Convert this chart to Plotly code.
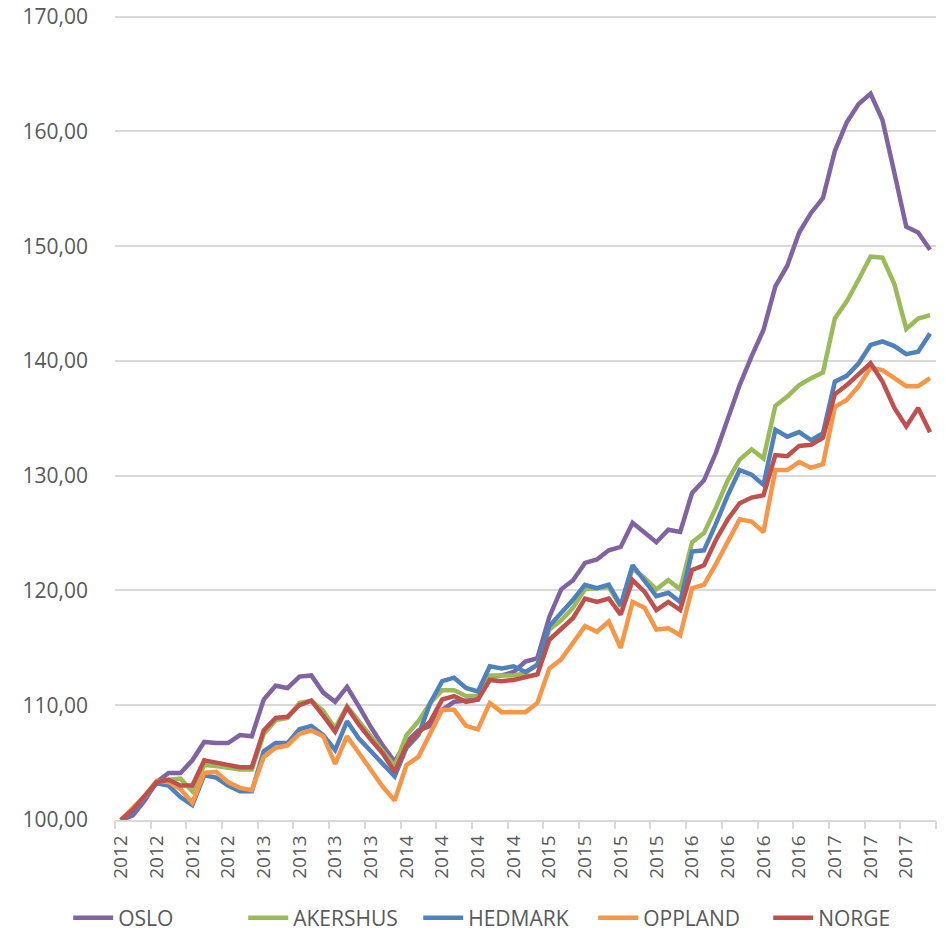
import plotly.graph_objects as go

# Monthly index, Jan 2012 - Sep 2017 (one label every 3 months)
tick_labels = ["2012"] * 4 + ["2013"] * 4 + ["2014"] * 4 + ["2015"] * 4 + ["2016"] * 4 + ["2017"] * 3

oslo = [100.0, 100.4, 101.7, 103.3, 104.1, 104.1, 105.2, 106.8, 106.7, 106.7, 107.4, 107.3,
        110.5, 111.7, 111.5, 112.5, 112.6, 111.1, 110.3, 111.6, 109.9, 108.1, 106.5, 105.1,
        106.8, 107.8, 108.2, 109.6, 110.3, 110.4, 110.5, 112.5, 112.6, 112.9, 113.8, 114.1,
        117.7, 120.1, 120.9, 122.4, 122.7, 123.5, 123.8, 125.9, 125.1, 124.2, 125.3, 125.1,
        128.5, 129.6, 132.0, 134.9, 137.9, 140.4, 142.7, 146.5, 148.3, 151.2, 152.9, 154.2,
        158.3, 160.8, 162.4, 163.3, 161.0, 156.4, 151.7, 151.2, 149.7]
akershus = [100.0, 100.8, 102.0, 103.3, 103.5, 103.6, 102.5, 104.8, 104.7, 104.5, 104.4, 104.4,
            107.5, 108.7, 108.9, 110.2, 110.4, 109.5, 108.0, 109.9, 108.6, 107.4, 106.1, 104.7,
            107.4, 108.6, 110.2, 111.3, 111.3, 110.8, 110.8, 112.6, 112.6, 112.6, 112.8, 113.6,
            116.6, 117.4, 118.5, 120.1, 120.2, 120.3, 118.6, 121.9, 121.1, 120.1, 120.9, 120.1,
            124.2, 125.0, 127.2, 129.6, 131.4, 132.3, 131.5, 136.1, 136.9, 137.9, 138.5, 139.0,
            143.7, 145.2, 147.1, 149.1, 149.0, 146.7, 142.8, 143.7, 144.0]
hedmark = [100.0, 100.7, 102.0, 103.2, 103.0, 102.0, 101.3, 103.9, 103.7, 103.0, 102.5, 102.5,
           106.0, 106.7, 106.7, 107.9, 108.2, 107.4, 106.1, 108.6, 107.1, 106.0, 104.9, 103.8,
           106.3, 107.4, 110.2, 112.1, 112.4, 111.5, 111.2, 113.4, 113.2, 113.4, 112.9, 113.5,
           116.9, 118.0, 119.2, 120.5, 120.2, 120.5, 118.7, 122.2, 120.9, 119.5, 119.8, 119.0,
           123.4, 123.5, 125.8, 128.3, 130.5, 130.1, 129.2, 134.0, 133.4, 133.8, 133.1, 133.7,
           138.2, 138.7, 139.8, 141.4, 141.7, 141.3, 140.6, 140.8, 142.4]
oppland = [100.0, 101.0, 102.1, 103.4, 103.3, 102.7, 101.5, 104.1, 104.2, 103.3, 102.8, 102.6,
           105.5, 106.3, 106.5, 107.5, 107.8, 107.3, 104.9, 107.3, 105.8, 104.4, 102.9, 101.7,
           104.8, 105.5, 107.6, 109.6, 109.6, 108.2, 107.9, 110.2, 109.4, 109.4, 109.4, 110.2,
           113.2, 114.0, 115.4, 116.9, 116.4, 117.3, 115.0, 119.0, 118.5, 116.6, 116.7, 116.1,
           120.2, 120.5, 122.3, 124.3, 126.2, 126.0, 125.1, 130.5, 130.5, 131.2, 130.7, 131.0,
           136.0, 136.6, 137.8, 139.4, 139.2, 138.5, 137.8, 137.8, 138.5]
norge = [100.0, 100.9, 102.1, 103.3, 103.5, 103.0, 103.0, 105.2, 105.0, 104.8, 104.6, 104.6,
         107.8, 108.9, 109.0, 110.0, 110.4, 109.1, 107.7, 109.8, 108.3, 107.0, 105.8, 104.2,
         106.5, 107.6, 108.6, 110.5, 110.8, 110.3, 110.5, 112.2, 112.1, 112.2, 112.4, 112.7,
         115.7, 116.7, 117.6, 119.3, 119.0, 119.3, 117.9, 120.9, 119.9, 118.3, 119.0, 118.3,
         121.8, 122.2, 124.4, 126.2, 127.6, 128.1, 128.3, 131.8, 131.7, 132.6, 132.7, 133.3,
         137.1, 137.9, 138.8, 139.8, 138.2, 135.9, 134.3, 135.9, 133.8]

series_names = ["OSLO", "AKERSHUS", "HEDMARK", "OPPLAND", "NORGE"]
series_values = [oslo, akershus, hedmark, oppland, norge]
colors = ["#8064A2", "#9BBB59", "#4F81BD", "#F79646", "#C0504D"]

n = len(oslo)
xs = list(range(n))
group = 3
label_vals = list(range(0, n, group))
boundary_vals = [k - 0.5 for k in range(0, n + 1, group)]

FONT = "Open Sans"
TXT = "#595959"
GRID = "#D9D9D9"

fig = go.Figure()
for name, vals, col in zip(series_names, series_values, colors):
    fig.add_trace(go.Scatter(x=xs, y=vals, name=name, mode="lines",
                             line=dict(color=col, width=4.5)))

# invisible trace to carry the tick-mark axis
fig.add_trace(go.Scatter(x=xs, y=oslo, xaxis="x2", mode="lines",
                         line=dict(color="rgba(0,0,0,0)"), showlegend=False,
                         hoverinfo="skip"))

fig.update_layout(
    width=945, height=933,
    margin=dict(l=115, r=9, t=15, b=113, autoexpand=False),
    paper_bgcolor="white", plot_bgcolor="white",
    separators=",.",
    font=dict(family=FONT, color=TXT, size=20),
    showlegend=True,
    legend=dict(orientation="h", x=-0.057, xanchor="left", y=-0.122, yanchor="middle",
                font=dict(family=FONT, size=21, color=TXT), traceorder="normal",
                entrywidth=120, itemwidth=40),
    xaxis=dict(range=[-0.5, n - 0.5], tickmode="array", tickvals=label_vals,
               ticktext=tick_labels, tickangle=-90, ticks="", showgrid=False,
               zeroline=False, showline=True, linecolor=GRID, linewidth=1.5,
               tickfont=dict(family=FONT, size=19, color=TXT), ticklabelstandoff=6),
    xaxis2=dict(range=[-0.5, n - 0.5], overlaying="x", anchor="y", side="bottom",
                tickmode="array", tickvals=boundary_vals, ticks="outside", ticklen=8,
                tickcolor=GRID, tickwidth=1.5, showticklabels=False, showgrid=False,
                zeroline=False, showline=False),
    yaxis=dict(range=[100, 170.15], tick0=100, dtick=10, tickformat=".2f",
               showgrid=True, gridcolor=GRID, gridwidth=1.5, zeroline=False,
               showline=False, ticks="", ticklabelstandoff=26, ticklabeloverflow="allow",
               tickfont=dict(family=FONT, size=21, color=TXT)),
)

# remove the browser's default 8px page margin so the figure fills the window
fig.write_html("out.html", config={"displayModeBar": False},
               post_script="document.body.style.margin='0px';")
